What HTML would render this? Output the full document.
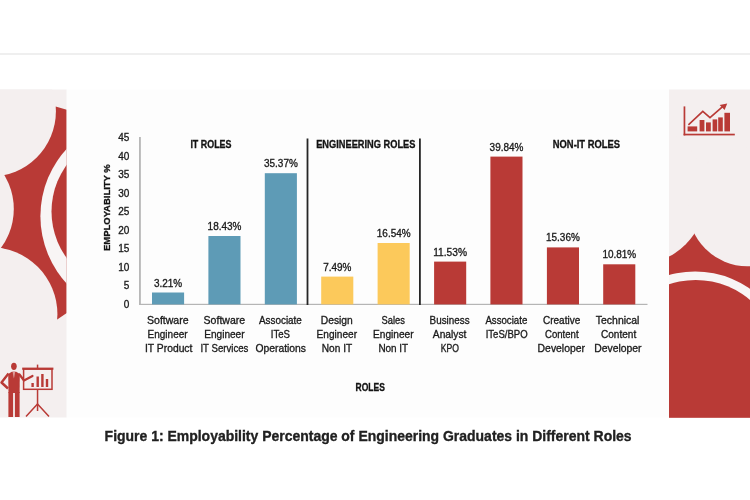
<!DOCTYPE html>
<html lang="en">
<head>
<meta charset="utf-8">
<title>Figure 1: Employability Percentage of Engineering Graduates in Different Roles</title>
<style>
html,body{margin:0;padding:0;background:#fff;}
body{width:750px;height:500px;overflow:hidden;position:relative;font-family:"Liberation Sans",sans-serif;}
svg{position:absolute;left:0;top:0;display:block;filter:blur(0.45px);}
text{font-family:"Liberation Sans",sans-serif;stroke:#1a1a1a;stroke-width:0.32px;}
.b{font-weight:bold;}
</style>
</head>
<body>
<svg width="750" height="500" viewBox="0 0 750 500">

<rect x="0" y="0" width="750" height="500" fill="#ffffff"/>
<rect x="0" y="53" width="750" height="2" fill="#efefef"/>
<rect x="0" y="89.5" width="750" height="328" fill="#fdfdfd"/>
<clipPath id="lp"><rect x="0" y="89.5" width="66.5" height="328"/></clipPath>
<clipPath id="rp"><rect x="669" y="89.5" width="81" height="328"/></clipPath>
<rect x="0" y="89.5" width="66.5" height="328" fill="#f4efef"/>
<rect x="669" y="89.5" width="81" height="328" fill="#f4efef"/>
<g clip-path="url(#lp)">
<path d="M-5,106.6 L55.6,106.6 L66.8,109.8 L66.8,313 L57.2,319.4 L-5,319.4 Z" fill="#b93a36"/>
<circle cx="-9.6" cy="111.3" r="65.5" fill="#f4efef"/>
<circle cx="-51.4" cy="209" r="65.2" fill="#f4efef"/>
<circle cx="-9.7" cy="314.2" r="67.1" fill="#f4efef"/>
<circle cx="139.9" cy="216.2" r="99.5" fill="#f8f5f5"/>
<circle cx="130.3" cy="211.5" r="78.8" fill="#b93a36"/>
</g>
<g clip-path="url(#lp)" fill="#b93a36" stroke="none">
<ellipse cx="13.9" cy="366.3" rx="2.8" ry="3.6"/>
<path d="M8.2,374 L11.8,371.8 L16.2,371.8 L19.8,374 L19.6,393 L8.5,393 Z"/>
<path d="M12.6,371.6 L15.2,371.6 L14.4,376.5 L13.9,378.5 L13.4,376.5 Z" fill="#dc9d9a"/>
<rect x="8.4" y="392" width="4.7" height="25"/>
<rect x="14.9" y="392" width="4.7" height="25"/>
<path d="M8.5,373.5 L1.5,382.5 L8,388.5" fill="none" stroke="#b93a36" stroke-width="2.4" stroke-linejoin="round"/>
<path d="M19.5,374.5 L24,380.5 L32.5,376" fill="none" stroke="#b93a36" stroke-width="2.2" stroke-linejoin="round" stroke-linecap="round"/>
<rect x="23.6" y="369" width="28.4" height="20.3" fill="none" stroke="#b93a36" stroke-width="1.5"/>
<rect x="22.2" y="367.6" width="31.2" height="2.2"/>
<rect x="36.8" y="364.6" width="1.5" height="4"/>
<rect x="36.8" y="389.5" width="1.5" height="21.5"/>
<path d="M37.5,404 L26,416.5 M37.5,404 L49,416.5" fill="none" stroke="#b93a36" stroke-width="1.5"/>
<rect x="31.4" y="383" width="2.4" height="4.0"/>
<rect x="36.5" y="376.5" width="2.4" height="10.5"/>
<rect x="41.2" y="374" width="2.4" height="13.0"/>
<rect x="45.8" y="379" width="2.4" height="8.0"/>
</g>
<g clip-path="url(#rp)">
<rect x="660" y="233" width="100" height="190" fill="#b93a36"/>
<circle cx="636" cy="194.4" r="70.4" fill="#f4efef"/>
<circle cx="747.3" cy="206.9" r="59.3" fill="#f4efef"/>
<circle cx="695.1" cy="366.9" r="95.5" fill="#f8f5f5"/>
<circle cx="695.7" cy="363.6" r="83.7" fill="#b93a36"/>
<rect x="660" y="340" width="100" height="90" fill="#b93a36"/>
</g>
<g fill="#b93a36" stroke="none">
<rect x="683.6" y="106.4" width="1.7" height="29"/>
<rect x="683.6" y="133.7" width="51.2" height="1.7"/>
<rect x="687.6" y="126.4" width="9.6" height="5.0"/>
<rect x="699.6" y="120" width="4.8" height="11.4"/>
<rect x="706" y="122.4" width="4.8" height="9.0"/>
<rect x="712.6" y="119.4" width="4.6" height="12.0"/>
<rect x="718.2" y="117.4" width="4.6" height="14.0"/>
<rect x="724.4" y="112.8" width="5.6" height="18.6"/>
<path d="M688.4,124.8 L702.8,111.4 L710,117.6 L723.5,105.8" fill="none" stroke="#b93a36" stroke-width="1.6"/>
<path d="M727.2,103.6 L719.6,105 L724.6,110 Z"/>
</g>
<rect x="139.3" y="137" width="1.3" height="168.0" fill="#9a9a9a"/>
<rect x="139.3" y="303.79999999999995" width="508.2" height="1.2" fill="#b5b5b5"/>
<rect x="152.0" y="292.5" width="32.1" height="11.9" fill="#5e9bb6"/>
<rect x="208.4" y="236.0" width="32.1" height="68.4" fill="#5e9bb6"/>
<rect x="264.8" y="173.2" width="32.1" height="131.2" fill="#5e9bb6"/>
<rect x="321.2" y="276.6" width="32.1" height="27.8" fill="#fcc95b"/>
<rect x="377.6" y="243.0" width="32.1" height="61.4" fill="#fcc95b"/>
<rect x="434.1" y="261.6" width="32.1" height="42.8" fill="#b93a36"/>
<rect x="490.4" y="156.6" width="32.1" height="147.8" fill="#b93a36"/>
<rect x="546.9" y="247.4" width="32.1" height="57.0" fill="#b93a36"/>
<rect x="603.2" y="264.3" width="32.1" height="40.1" fill="#b93a36"/>
<rect x="306.6" y="138.5" width="1.8" height="166.5" fill="#262626"/>
<rect x="419.0" y="138.5" width="1.8" height="166.5" fill="#262626"/>
<text x="129.4" y="308.0" font-size="10" text-anchor="end" fill="#1a1a1a">0</text>
<text x="129.4" y="289.4" font-size="10" text-anchor="end" fill="#1a1a1a">5</text>
<text x="129.4" y="270.9" font-size="10" text-anchor="end" fill="#1a1a1a">10</text>
<text x="129.4" y="252.3" font-size="10" text-anchor="end" fill="#1a1a1a">15</text>
<text x="129.4" y="233.8" font-size="10" text-anchor="end" fill="#1a1a1a">20</text>
<text x="129.4" y="215.2" font-size="10" text-anchor="end" fill="#1a1a1a">25</text>
<text x="129.4" y="196.7" font-size="10" text-anchor="end" fill="#1a1a1a">30</text>
<text x="129.4" y="178.1" font-size="10" text-anchor="end" fill="#1a1a1a">35</text>
<text x="129.4" y="159.6" font-size="10" text-anchor="end" fill="#1a1a1a">40</text>
<text x="129.4" y="141.0" font-size="10" text-anchor="end" fill="#1a1a1a">45</text>
<text x="154.0" y="286.5" font-size="10.2" textLength="28.2" lengthAdjust="spacingAndGlyphs" fill="#1a1a1a">3.21%</text>
<text x="207.6" y="230.0" font-size="10.2" textLength="33.8" lengthAdjust="spacingAndGlyphs" fill="#1a1a1a">18.43%</text>
<text x="264.0" y="167.2" font-size="10.2" textLength="33.8" lengthAdjust="spacingAndGlyphs" fill="#1a1a1a">35.37%</text>
<text x="323.2" y="270.6" font-size="10.2" textLength="28.2" lengthAdjust="spacingAndGlyphs" fill="#1a1a1a">7.49%</text>
<text x="376.8" y="237.0" font-size="10.2" textLength="33.8" lengthAdjust="spacingAndGlyphs" fill="#1a1a1a">16.54%</text>
<text x="433.2" y="255.6" font-size="10.2" textLength="33.8" lengthAdjust="spacingAndGlyphs" fill="#1a1a1a">11.53%</text>
<text x="489.6" y="150.6" font-size="10.2" textLength="33.8" lengthAdjust="spacingAndGlyphs" fill="#1a1a1a">39.84%</text>
<text x="546.0" y="241.4" font-size="10.2" textLength="33.8" lengthAdjust="spacingAndGlyphs" fill="#1a1a1a">15.36%</text>
<text x="602.4" y="258.3" font-size="10.2" textLength="33.8" lengthAdjust="spacingAndGlyphs" fill="#1a1a1a">10.81%</text>
<text x="147.0" y="324.0" font-size="10.5" textLength="41.6" lengthAdjust="spacingAndGlyphs" fill="#1a1a1a">Software</text>
<text x="147.6" y="338.0" font-size="10.5" textLength="40.0" lengthAdjust="spacingAndGlyphs" fill="#1a1a1a">Engineer</text>
<text x="145.0" y="352.0" font-size="10.5" textLength="47.4" lengthAdjust="spacingAndGlyphs" fill="#1a1a1a">IT Product</text>
<text x="203.6" y="324.0" font-size="10.5" textLength="41.6" lengthAdjust="spacingAndGlyphs" fill="#1a1a1a">Software</text>
<text x="204.2" y="338.0" font-size="10.5" textLength="40.4" lengthAdjust="spacingAndGlyphs" fill="#1a1a1a">Engineer</text>
<text x="200.4" y="352.0" font-size="10.5" textLength="48.0" lengthAdjust="spacingAndGlyphs" fill="#1a1a1a">IT Services</text>
<text x="259.0" y="324.0" font-size="10.5" textLength="42.8" lengthAdjust="spacingAndGlyphs" fill="#1a1a1a">Associate</text>
<text x="270.8" y="338.0" font-size="10.5" textLength="19.2" lengthAdjust="spacingAndGlyphs" fill="#1a1a1a">ITeS</text>
<text x="255.4" y="352.0" font-size="10.5" textLength="50.6" lengthAdjust="spacingAndGlyphs" fill="#1a1a1a">Operations</text>
<text x="320.8" y="324.0" font-size="10.5" textLength="32.0" lengthAdjust="spacingAndGlyphs" fill="#1a1a1a">Design</text>
<text x="316.6" y="338.0" font-size="10.5" textLength="40.4" lengthAdjust="spacingAndGlyphs" fill="#1a1a1a">Engineer</text>
<text x="321.8" y="352.0" font-size="10.5" textLength="30.4" lengthAdjust="spacingAndGlyphs" fill="#1a1a1a">Non IT</text>
<text x="381.6" y="324.0" font-size="10.5" textLength="23.4" lengthAdjust="spacingAndGlyphs" fill="#1a1a1a">Sales</text>
<text x="373.0" y="338.0" font-size="10.5" textLength="40.6" lengthAdjust="spacingAndGlyphs" fill="#1a1a1a">Engineer</text>
<text x="378.4" y="352.0" font-size="10.5" textLength="29.8" lengthAdjust="spacingAndGlyphs" fill="#1a1a1a">Non IT</text>
<text x="429.6" y="324.0" font-size="10.5" textLength="40.0" lengthAdjust="spacingAndGlyphs" fill="#1a1a1a">Business</text>
<text x="432.8" y="338.0" font-size="10.5" textLength="33.6" lengthAdjust="spacingAndGlyphs" fill="#1a1a1a">Analyst</text>
<text x="440.8" y="352.0" font-size="10.5" textLength="18.2" lengthAdjust="spacingAndGlyphs" fill="#1a1a1a">KPO</text>
<text x="485.4" y="324.0" font-size="10.5" textLength="41.9" lengthAdjust="spacingAndGlyphs" fill="#1a1a1a">Associate</text>
<text x="485.7" y="338.0" font-size="10.5" textLength="41.9" lengthAdjust="spacingAndGlyphs" fill="#1a1a1a">ITeS/BPO</text>
<text x="543.0" y="324.0" font-size="10.5" textLength="37.2" lengthAdjust="spacingAndGlyphs" fill="#1a1a1a">Creative</text>
<text x="545.0" y="338.0" font-size="10.5" textLength="33.6" lengthAdjust="spacingAndGlyphs" fill="#1a1a1a">Content</text>
<text x="537.6" y="352.0" font-size="10.5" textLength="47.4" lengthAdjust="spacingAndGlyphs" fill="#1a1a1a">Developer</text>
<text x="595.8" y="324.0" font-size="10.5" textLength="43.6" lengthAdjust="spacingAndGlyphs" fill="#1a1a1a">Technical</text>
<text x="601.0" y="338.0" font-size="10.5" textLength="35.2" lengthAdjust="spacingAndGlyphs" fill="#1a1a1a">Content</text>
<text x="594.2" y="352.0" font-size="10.5" textLength="47.4" lengthAdjust="spacingAndGlyphs" fill="#1a1a1a">Developer</text>
<text class="b" x="190.4" y="147.9" font-size="10.1" textLength="41.1" lengthAdjust="spacingAndGlyphs" fill="#111">IT ROLES</text>
<text class="b" x="316.2" y="147.9" font-size="10.1" textLength="99.2" lengthAdjust="spacingAndGlyphs" fill="#111">ENGINEERING ROLES</text>
<text class="b" x="552.8" y="147.9" font-size="10.1" textLength="67.2" lengthAdjust="spacingAndGlyphs" fill="#111">NON-IT ROLES</text>
<text class="b" x="355.6" y="391.1" font-size="10.1" textLength="29.3" lengthAdjust="spacingAndGlyphs" fill="#111">ROLES</text>
<text class="b" transform="translate(110,251) rotate(-90)" x="0" y="0" font-size="9.7" textLength="86.8" lengthAdjust="spacingAndGlyphs" fill="#111">EMPLOYABILITY %</text>
<text class="b" x="104.6" y="440.7" font-size="14.4" textLength="527" lengthAdjust="spacingAndGlyphs" fill="#222">Figure 1: Employability Percentage of Engineering Graduates in Different Roles</text>
</svg>
</body>
</html>
